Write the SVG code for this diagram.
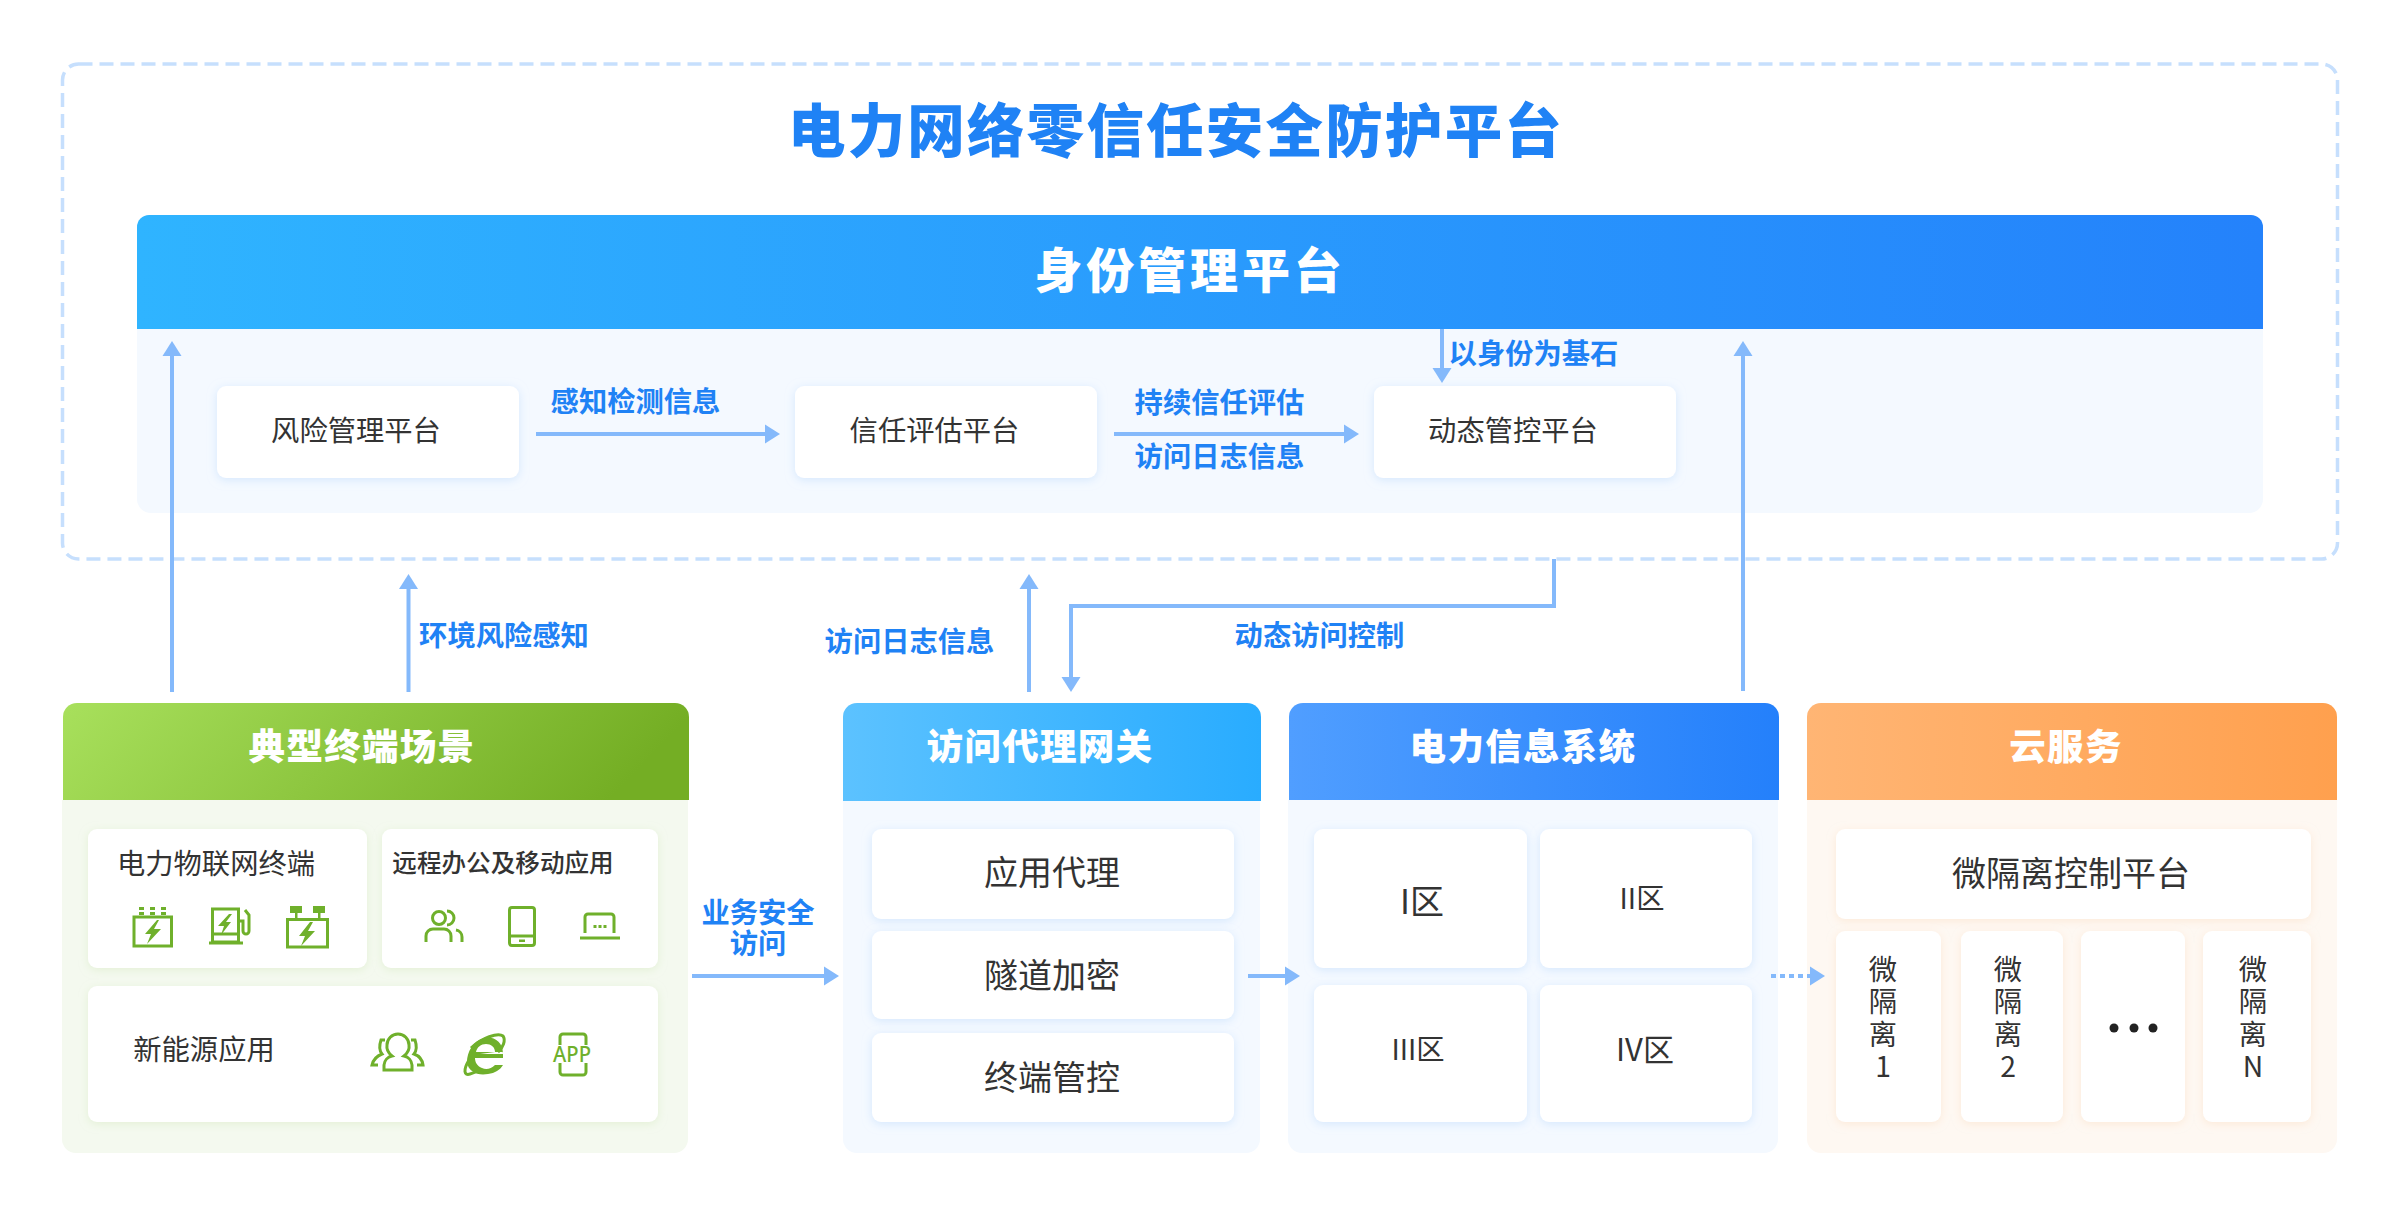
<svg xmlns="http://www.w3.org/2000/svg" width="2400" height="1217" viewBox="0 0 2400 1217">
<style>
text{font-family:"Noto Sans CJK SC","Noto Sans",sans-serif;dominant-baseline:central;text-anchor:middle}
.ttl{font-size:57.500px;font-weight:900;fill:#1f82f5;letter-spacing:2.200px}
.hd1{font-size:48px;font-weight:900;fill:#fff;letter-spacing:3.900px}
.hd{font-size:36.500px;font-weight:900;fill:#fff;letter-spacing:1.300px}
.c{font-size:28.300px;fill:#333}
.c34{font-size:34px;fill:#333}
.lb{font-size:28.300px;font-weight:700;fill:#1f82f5}
.ln{fill:none;stroke:#84b9fb;stroke-width:4;stroke-linejoin:miter}
.ic{fill:none;stroke:#6fb02b;stroke-width:3}
.if{fill:#6fb02b}
.card{fill:#fff}
.bl{filter:url(#sb)}.gr{filter:url(#sg)}.or{filter:url(#so)}
</style>
<defs>
<linearGradient id="gm" x1="0" y1="0" x2="1" y2="0"><stop offset="0" stop-color="#2fb4ff"/><stop offset="1" stop-color="#2482fb"/></linearGradient>
<linearGradient id="gg" x1="0" y1="0" x2="1" y2="0.15"><stop offset="0" stop-color="#a8e05c"/><stop offset="1" stop-color="#74ae24"/></linearGradient>
<linearGradient id="gw" x1="0" y1="0" x2="1" y2="0"><stop offset="0" stop-color="#5cc2ff"/><stop offset="1" stop-color="#29acff"/></linearGradient>
<linearGradient id="gp" x1="0" y1="0" x2="1" y2="0"><stop offset="0" stop-color="#509eff"/><stop offset="1" stop-color="#2480fb"/></linearGradient>
<linearGradient id="gc" x1="0" y1="0" x2="1" y2="0"><stop offset="0" stop-color="#ffb574"/><stop offset="1" stop-color="#ffa04e"/></linearGradient>
<filter id="sb" x="-15%" y="-30%" width="130%" height="160%"><feDropShadow dx="0" dy="2" stdDeviation="5" flood-color="#bcd9fb" flood-opacity=".55"/></filter>
<filter id="sg" x="-15%" y="-30%" width="130%" height="160%"><feDropShadow dx="0" dy="2" stdDeviation="4" flood-color="#d3e8bd" flood-opacity=".5"/></filter>
<filter id="so" x="-15%" y="-30%" width="130%" height="160%"><feDropShadow dx="0" dy="2" stdDeviation="4" flood-color="#fbdcc0" flood-opacity=".5"/></filter>
<marker id="ah" markerUnits="userSpaceOnUse" markerWidth="16" markerHeight="20" refX="1" refY="10" orient="auto"><path d="M0,0.500 L15,10 L0,19.500 z" fill="#84b9fb"/></marker>
</defs>
<rect width="2400" height="1217" fill="#fff"/>

<g id="platform">
<rect x="62.500" y="64" width="2275" height="495" rx="16" fill="none" stroke="#c6dffd" stroke-width="3.500" stroke-dasharray="14 7"/>
<text class="ttl" x="1176" y="127">电力网络零信任安全防护平台</text>
</g>
<g id="identity">
<path d="M137,329 V227 a12,12 0 0 1 12,-12 H2251 a12,12 0 0 1 12,12 V329 z" fill="url(#gm)"/>
<path d="M137,329 H2263 V499 a14,14 0 0 1 -14,14 H151 a14,14 0 0 1 -14,-14 z" fill="#f4f9ff"/>
<text class="hd1" x="1190" y="267">身份管理平台</text>
</g>
<g id="risk"><rect class="card bl" x="217" y="386" width="302" height="92" rx="9"/><text class="c" x="356" y="428">风险管理平台</text></g>
<g id="trust"><rect class="card bl" x="795" y="386" width="302" height="92" rx="9"/><text class="c" x="934.500" y="428">信任评估平台</text></g>
<g id="dynamic"><rect class="card bl" x="1374" y="386" width="302" height="92" rx="9"/><text class="c" x="1513" y="428">动态管控平台</text></g>

<g id="terminal">
<path d="M63,800 V717 a14,14 0 0 1 14,-14 H675 a14,14 0 0 1 14,14 V800 z" fill="url(#gg)"/>
<path d="M62,800 H688 V1139 a14,14 0 0 1 -14,14 H76 a14,14 0 0 1 -14,-14 z" fill="#f4f9ef"/>
<text class="hd" x="362" y="744">典型终端场景</text>
<rect class="card gr" x="88" y="829" width="279" height="139" rx="9"/>
<text class="c" x="216" y="861">电力物联网终端</text>
<rect class="card gr" x="382" y="829" width="276" height="139" rx="9"/>
<text x="503" y="861" font-size="24.600" font-weight="500" style="fill:#333">远程办公及移动应用</text>
<rect class="card gr" x="88" y="986" width="570" height="136" rx="9"/>
<text class="c" x="204" y="1047">新能源应用</text>
<g id="icon-battery">
<rect class="ic" x="134" y="917" width="37.500" height="29"/>
<path class="if" d="M139,907h5v3h-5zM150,907h5v3h-5zM161,907h5v3h-5zM139,912h5v3h-5zM150,912h5v3h-5zM161,912h5v3h-5z"/>
<path class="if" d="M157,920 L145,934 H151 L147,944 L161,929 H154 L159,920 z"/>
</g>
<g id="icon-charger">
<rect class="ic" x="212.500" y="909" width="26" height="33"/>
<path class="ic" d="M213,934H238M209,943H243M239,921 h4 v10 a3,3 0 0 0 6,0 V915 l-4,-5"/>
<path class="if" d="M229,914 L218,926 H224 L221,935 L231,922 H226 L232,914 z"/>
</g>
<g id="icon-tower">
<rect class="ic" x="287.500" y="919.500" width="40" height="27.500"/>
<path class="if" d="M290,906h12v7h-12zM313,906h12v7h-12zM295,913h2.500v6h-2.500zM318,913h2.500v6h-2.500z"/>
<path class="if" d="M310,922 L299,936 H305 L301,946 L315,931 H308 L313,922 z"/>
</g>
<g id="icon-users">
<circle class="ic" cx="439" cy="918" r="6.500"/>
<path class="ic" d="M426,942 v-6 a7,7 0 0 1 7,-7 h11 a7,7 0 0 1 7,7 v6M447,911 a7,7 0 0 1 0,14M456,930 a7,7 0 0 1 6,7 v5"/>
</g>
<g id="icon-phone">
<rect class="ic" x="509.500" y="907.500" width="25" height="38" rx="2.500"/>
<path class="ic" d="M510,936H534"/><path class="if" d="M519,939.500h6v2.500h-6z"/>
</g>
<g id="icon-laptop">
<path class="ic" d="M585,933 V917 a3,3 0 0 1 3,-3 H611 a3,3 0 0 1 3,3 V933"/>
<path class="ic" d="M580,938H620"/>
<path class="if" d="M593.500,925h3v3h-3zM598.500,925h3v3h-3zM603.500,925h3v3h-3z"/>
</g>
<g id="icon-group">
<path class="ic" d="M384,1070 v-5 a10,10 0 0 1 8,-9 q-6,-5 -5,-11 a11,11 0 0 1 22,0 q1,6 -5,11 a10,10 0 0 1 8,9 v5 z"/>
<path class="ic" d="M385,1040 h-4 q-3,9 1,14 q-8,3 -10,11 h6M411,1040 h4 q3,9 -1,14 q8,3 9,11 h-6"/>
</g>
<g id="icon-browser">
<path d="M480,1054 H503 C503,1042 494,1036 484,1038 C473,1041 467,1052 467,1062 C468,1072 478,1076 488,1074 C495,1073 500,1070 503,1065 H495 C491,1069 486,1070 482,1068 C477,1066 475,1062 475,1058 H503 V1052 H476 C477,1047 481,1044 486,1044 C491,1044 495,1047 495,1052" fill="#6fb02b" fill-rule="evenodd"/>
<path class="ic" stroke-width="2" d="M471,1048 C482,1038 498,1032 503,1036 C506,1040 503,1048 498,1052M469,1060 C463,1070 464,1076 470,1074 C474,1073 478,1071 481,1069"/>
</g>
<g id="icon-app">
<path class="ic" d="M560,1045 V1037 a3,3 0 0 1 3,-3 H583 a3,3 0 0 1 3,3 V1045M560,1063 V1072 a3,3 0 0 0 3,3 H583 a3,3 0 0 0 3,-3 V1063"/>
<text x="572" y="1054" font-size="21" font-weight="500" textLength="38" lengthAdjust="spacingAndGlyphs" style="fill:#6fb02b;font-family:'Noto Sans',sans-serif">APP</text>
</g>
</g>

<g id="gateway">
<path d="M843,801 V717 a14,14 0 0 1 14,-14 H1247 a14,14 0 0 1 14,14 V801 z" fill="url(#gw)"/>
<path d="M843,801 H1260 V1139 a14,14 0 0 1 -14,14 H857 a14,14 0 0 1 -14,-14 z" fill="#f4f9ff"/>
<text class="hd" x="1040" y="744">访问代理网关</text>
<rect class="card bl" x="872" y="829" width="362" height="90" rx="9"/><text class="c34" x="1052" y="870">应用代理</text>
<rect class="card bl" x="872" y="931" width="362" height="88" rx="9"/><text class="c34" x="1052" y="973">隧道加密</text>
<rect class="card bl" x="872" y="1033" width="362" height="89" rx="9"/><text class="c34" x="1052" y="1075">终端管控</text>
</g>
<g id="power">
<path d="M1289,800 V717 a14,14 0 0 1 14,-14 H1765 a14,14 0 0 1 14,14 V800 z" fill="url(#gp)"/>
<path d="M1288,800 H1778 V1139 a14,14 0 0 1 -14,14 H1302 a14,14 0 0 1 -14,-14 z" fill="#f4f9ff"/>
<text class="hd" x="1523" y="744">电力信息系统</text>
<rect class="card bl" x="1314" y="829" width="213" height="139" rx="9"/><text x="1422" y="899" font-size="34" style="fill:#333">I区</text>
<rect class="card bl" x="1540" y="829" width="212" height="139" rx="9"/><text class="c" x="1642" y="896">II区</text>
<rect class="card bl" x="1314" y="985" width="213" height="137" rx="9"/><text class="c" x="1418" y="1047">III区</text>
<rect class="card bl" x="1540" y="985" width="212" height="137" rx="9"/><text x="1645" y="1047" font-size="31" style="fill:#333">IV区</text>
</g>
<g id="cloud">
<path d="M1807,800 V717 a14,14 0 0 1 14,-14 H2323 a14,14 0 0 1 14,14 V800 z" fill="url(#gc)"/>
<path d="M1807,800 H2337 V1139 a14,14 0 0 1 -14,14 H1821 a14,14 0 0 1 -14,-14 z" fill="#fef8f2"/>
<text class="hd" x="2066" y="744">云服务</text>
<rect class="card or" x="1836" y="829" width="475" height="90" rx="9"/><text class="c34" x="2071" y="871">微隔离控制平台</text>
<rect class="card or" x="1836" y="931" width="105" height="191" rx="9"/>
<text class="c"><tspan x="1883" y="967">微</tspan><tspan x="1883" y="999">隔</tspan><tspan x="1883" y="1032">离</tspan><tspan x="1883" y="1064">1</tspan></text>
<rect class="card or" x="1961" y="931" width="102" height="191" rx="9"/>
<text class="c"><tspan x="2008" y="967">微</tspan><tspan x="2008" y="999">隔</tspan><tspan x="2008" y="1032">离</tspan><tspan x="2008" y="1064">2</tspan></text>
<rect class="card or" x="2081" y="931" width="104" height="191" rx="9"/>
<circle cx="2114" cy="1028" r="4.500" fill="#222"/><circle cx="2134" cy="1028" r="4.500" fill="#222"/><circle cx="2153" cy="1028" r="4.500" fill="#222"/>
<rect class="card or" x="2203" y="931" width="108" height="191" rx="9"/>
<text class="c"><tspan x="2253" y="967">微</tspan><tspan x="2253" y="999">隔</tspan><tspan x="2253" y="1032">离</tspan><tspan x="2253" y="1064">N</tspan></text>
</g>

<g id="connectors">
<path class="ln" marker-end="url(#ah)" d="M172,692 V355"/>
<path class="ln" marker-end="url(#ah)" d="M408.500,692 V588"/>
<path class="ln" marker-end="url(#ah)" d="M536,434 H766"/>
<path class="ln" marker-end="url(#ah)" d="M1114,434 H1345"/>
<path class="ln" marker-end="url(#ah)" d="M1442,329 V369"/>
<path class="ln" marker-end="url(#ah)" d="M1743,691 V355"/>
<path class="ln" marker-end="url(#ah)" d="M1554,559 V606 H1071 V678"/>
<path class="ln" marker-end="url(#ah)" d="M1029,692 V588"/>
<path class="ln" marker-end="url(#ah)" d="M692,976 H825"/>
<path class="ln" marker-end="url(#ah)" d="M1248,976 H1286"/>
<path class="ln" marker-end="url(#ah)" stroke-dasharray="5 4" d="M1771,976 H1811"/>
</g>
<g id="connector-labels">
<text class="lb" x="635.500" y="399">感知检测信息</text>
<text class="lb" x="1219.500" y="400">持续信任评估</text>
<text class="lb" x="1219.500" y="454">访问日志信息</text>
<text class="lb" x="1533.500" y="351">以身份为基石</text>
<text class="lb" x="504" y="633">环境风险感知</text>
<text class="lb" x="909.500" y="639">访问日志信息</text>
<text class="lb" x="1319.500" y="633">动态访问控制</text>
<text class="lb"><tspan x="758" y="910">业务安全</tspan><tspan x="758" y="941">访问</tspan></text>
</g>
</svg>
